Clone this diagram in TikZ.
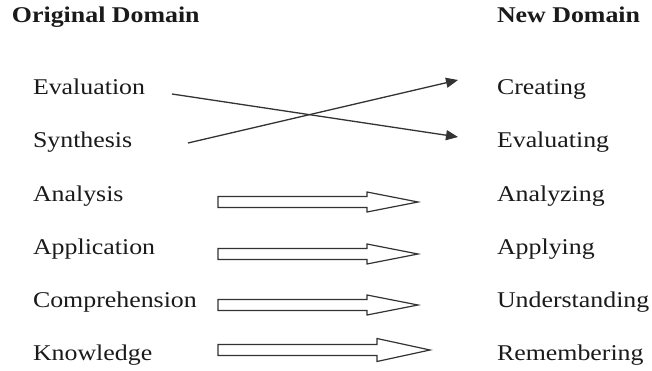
\documentclass[tikz,border=0pt]{standalone}
\usepackage{fontspec}
\setmainfont{Liberation Serif}[FakeStretch=1.15]
\usetikzlibrary{arrows.meta,calc}
\definecolor{ink}{HTML}{1A1A1A}
\definecolor{lin}{HTML}{333333}
\tikzset{
  lbl/.style={anchor=base west,inner sep=0pt,outer sep=0pt,text=ink,font=\fontsize{22.5}{26}\selectfont},
  hdr/.style={lbl,font=\fontsize{22.5}{26}\selectfont\bfseries},
  thin/.style={draw=lin,line width=1.3pt,-{Triangle[length=12pt,width=10pt]}},
  blk/.style={draw=lin,line width=1.2pt,fill=white,line join=miter}
}
\newcommand{\blkarrow}[4]{% start, end, head length, head half width
  \draw[blk] ($(#1)+(0,5.5)$) -- ($(#2)+(-#3,5.5)$) -- ($(#2)+(-#3,#4)$) -- (#2)
    -- ($(#2)+(-#3,-#4)$) -- ($(#2)+(-#3,-5.5)$) -- ($(#1)+(0,-5.5)$) -- cycle;}
\begin{document}
\begin{tikzpicture}[x=1pt,y=-1pt]
\useasboundingbox (0,0) rectangle (652,371);
\node[hdr] (ho) at (12,23) {Original Domain};
\node[hdr] (hn) at (497,23) {New Domain};
\node[lbl] (l1) at (33,95) {Evaluation};
\node[lbl] (l2) at (33,148) {Synthesis};
\node[lbl] (l3) at (33,201) {Analysis};
\node[lbl] (l4) at (33,254) {Application};
\node[lbl] (l5) at (33,307) {Comprehension};
\node[lbl] (l6) at (33,360) {Knowledge};
\node[lbl] (r1) at (497,95) {Creating};
\node[lbl] (r2) at (497,148) {Evaluating};
\node[lbl] (r3) at (497,201) {Analyzing};
\node[lbl] (r4) at (497,254) {Applying};
\node[lbl] (r5) at (497,307) {Understanding};
\node[lbl] (r6) at (497,360) {Remembering};
% crossing arrows
\coordinate (a1s) at (172,94);
\coordinate (a1e) at (458,137);
\coordinate (a2s) at (188,143);
\coordinate (a2e) at (458,80);
\draw[thin] (a1s) -- (a1e);
\draw[thin] (a2s) -- (a2e);
% block arrows
\coordinate (b1s) at (218,202); \coordinate (b1e) at (418,202);
\coordinate (b2s) at (218,254); \coordinate (b2e) at (418,254);
\coordinate (b3s) at (218,305); \coordinate (b3e) at (418,305);
\coordinate (b4s) at (218,350); \coordinate (b4e) at (430,350);
\blkarrow{b1s}{b1e}{51}{10}
\blkarrow{b2s}{b2e}{51}{10}
\blkarrow{b3s}{b3e}{51}{10}
\blkarrow{b4s}{b4e}{53}{11.5}
\end{tikzpicture}
\end{document}
